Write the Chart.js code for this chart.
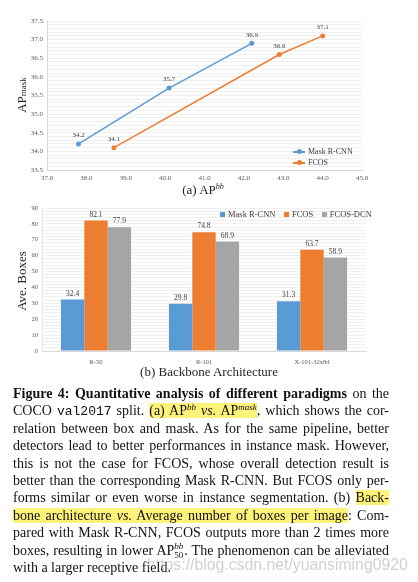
<!DOCTYPE html>
<html>
<head>
<meta charset="utf-8">
<script src="https://cdn.jsdelivr.net/npm/chart.js@4.4.0/dist/chart.umd.min.js"></script>
<style>
body { margin: 0; background: #fff; }
#page { position: relative; width: 418px; height: 582px; overflow: hidden; font-family: "Liberation Serif", "Times New Roman", serif; color: #111; }
canvas { position: absolute; left: 0; }
#chartA { top: 0; }
#chartB { top: 195px; }
.lbl { position: absolute; color: #262626; font-size: 13px; white-space: nowrap; }
.rot { transform: translate(-50%, -50%) rotate(-90deg); }
.ctr { transform: translate(-50%, -50%); }
.lbl sup { font-size: 8px; vertical-align: 0; position: relative; top: -5px; }
.leg { position: absolute; font-size: 8px; color: #404040; white-space: nowrap; line-height: 10px; }
.leg .ln { display: inline-block; width: 12px; height: 1.5px; vertical-align: middle; position: relative; margin-right: 3px; }
.leg .ln::after { content: ""; position: absolute; left: 4px; top: -2px; width: 5px; height: 5px; border-radius: 50%; background: inherit; }
.leg .sq { display: inline-block; width: 5px; height: 5px; margin-right: 3px; vertical-align: middle; position: relative; top: -1px; }
#cap { position: absolute; left: 13px; top: 385px; width: 376px; font-size: 14px; }
#cap .row { height: 17.4px; line-height: 17.4px; text-align: justify; text-align-last: justify; white-space: nowrap; }
#cap .row.end { text-align-last: left; }
#cap code { font-family: "Liberation Mono", monospace; font-size: 13px; }
#cap .hl { background: #fdf27a; }
#cap sup { font-size: 9px; vertical-align: 0; position: relative; top: -5px; line-height: 0; }
#cap .ss { position: relative; display: inline-block; width: 10px; height: 1px; }
#cap .ss span { position: absolute; left: 0; font-size: 9px; line-height: 9px; }
#cap .ss .up { top: -12px; }
#cap .ss .dn { top: -3px; }
#wm { position: absolute; left: 147px; top: 556px; font-family: "Liberation Sans", Arial, sans-serif; font-size: 15.8px; line-height: 18px; color: rgba(150, 150, 150, 0.45); white-space: nowrap; }
</style>
</head>
<body>
<div id="page">
  <canvas id="chartA" width="418" height="198"></canvas>
  <canvas id="chartB" width="418" height="185"></canvas>

  <div class="lbl rot" style="left:22px; top:95px;">AP<span style="font-size:9px;">mask</span></div>
  <div class="lbl ctr" style="left:203px; top:190px;">(a) AP<sup><i>bb</i></sup></div>
  <div class="lbl rot" style="left:22px; top:281px;">Ave. Boxes</div>
  <div class="lbl ctr" style="left:209px; top:372px;">(b) Backbone Architecture</div>

  <div class="leg" style="left:293px; top:147px;"><span class="ln" style="background:#5b9bd5"></span>Mask R-CNN</div>
  <div class="leg" style="left:293px; top:158px;"><span class="ln" style="background:#ed7d31"></span>FCOS</div>

  <div class="leg" style="left:220px; top:209px; font-size:8.5px;">
    <span class="sq" style="background:#5b9bd5"></span>Mask R-CNN&nbsp;&nbsp;&nbsp;
    <span class="sq" style="background:#ed7d31"></span>FCOS&nbsp;&nbsp;&nbsp;
    <span class="sq" style="background:#a5a5a5"></span>FCOS-DCN
  </div>

  <div id="cap">
    <div class="row"><b>Figure 4: Quantitative analysis of different paradigms</b> on the</div>
    <div class="row">COCO <code>val2017</code> split. <span class="hl">(a) AP<sup><i>bb</i></sup> <i>vs.</i> AP<sup><i>mask</i></sup></span>, which shows the cor-</div>
    <div class="row">relation between box and mask. As for the same pipeline, better</div>
    <div class="row">detectors lead to better performances in instance mask. However,</div>
    <div class="row">this is not the case for FCOS, whose overall detection result is</div>
    <div class="row">better than the corresponding Mask R-CNN. But FCOS only per-</div>
    <div class="row">forms similar or even worse in instance segmentation. (b) <span class="hl">Back-</span></div>
    <div class="row"><span class="hl">bone architecture <i>vs.</i> Average number of boxes per image</span>: Com-</div>
    <div class="row">pared with Mask R-CNN, FCOS outputs more than 2 times more</div>
    <div class="row">boxes, resulting in lower AP<span class="ss"><span class="up"><i>bb</i></span><span class="dn">50</span></span>. The phenomenon can be alleviated</div>
    <div class="row end">with a larger receptive field.</div>
  </div>
  <div id="wm">https://blog.csdn.net/yuansiming0920</div>
</div>

<script>
// (a) AP bb vs AP mask
const maskBoxAP = [37.8, 40.1, 42.2];
const maskMaskAP = [34.2, 35.7, 36.9];
const fcosBoxAP = [38.7, 42.9, 44.0];
const fcosMaskAP = [34.1, 36.6, 37.1];

// (b) nombre moyen de boîtes
const backbones = ['R-50', 'R-101', 'X-101-32x8d'];
const boxesMask = [32.4, 29.8, 31.3];
const boxesFcos = [82.1, 74.8, 63.7];
const boxesFcosDcn = [77.9, 68.9, 58.9];

const BLUE = '#5b9bd5';
const ORANGE = '#ed7d31';
const GRAY = '#a5a5a5';
const SERIF = '"Liberation Serif", "Times New Roman", serif';

// écrit la valeur au-dessus de chaque point / barre
const valueLabels = {
    id: 'valueLabels',
    afterDatasetsDraw(chart, args, opts) {
        const ctx = chart.ctx;
        ctx.save();
        ctx.font = opts.size + 'px ' + SERIF;
        ctx.fillStyle = '#404040';
        ctx.textAlign = 'center';
        ctx.textBaseline = 'bottom';
        chart.data.datasets.forEach((ds, i) => {
            chart.getDatasetMeta(i).data.forEach((el, j) => {
                const v = ds.data[j];
                const val = typeof v === 'object' ? v.y : v;
                ctx.fillText(val.toFixed(1), el.x, el.y - opts.offset);
            });
        });
        ctx.restore();
    }
};

function pairs(xs, ys) {
    return xs.map((x, i) => ({ x: x, y: ys[i] }));
}

new Chart(document.getElementById('chartA'), {
    type: 'line',
    data: {
        datasets: [{
            label: 'Mask R-CNN',
            data: pairs(maskBoxAP, maskMaskAP),
            borderColor: BLUE,
            backgroundColor: BLUE,
            borderWidth: 1.5,
            pointRadius: 2.5,
            pointBorderWidth: 0,
            tension: 0
        }, {
            label: 'FCOS',
            data: pairs(fcosBoxAP, fcosMaskAP),
            borderColor: ORANGE,
            backgroundColor: ORANGE,
            borderWidth: 1.5,
            pointRadius: 2.5,
            pointBorderWidth: 0,
            tension: 0
        }]
    },
    options: {
        responsive: false,
        animation: false,
        layout: { padding: { top: 21, right: 56, left: 0, bottom: 0 } },
        plugins: {
            legend: { display: false },
            tooltip: { enabled: false },
            valueLabels: { size: 7, offset: 5 }
        },
        scales: {
            x: {
                type: 'linear',
                min: 37, max: 45,
                afterFit: s => { s.height = 28; },
                grid: { display: false, drawTicks: false },
                border: { display: true, color: '#d9d9d9' },
                ticks: {
                    stepSize: 1, padding: 4, color: '#595959',
                    font: { family: SERIF, size: 7 },
                    callback: v => Number(v).toFixed(1)
                }
            },
            y: {
                min: 33.5, max: 37.5,
                afterFit: s => { s.width = 47; },
                grid: { color: '#f0f0f0', drawTicks: false },
                border: { display: true, color: '#d9d9d9' },
                ticks: {
                    stepSize: 0.1, maxTicksLimit: 100, autoSkip: false, padding: 4, color: '#595959',
                    font: { family: SERIF, size: 7 },
                    callback: v => Math.abs(v * 2 - Math.round(v * 2)) < 1e-6 ? Number(v).toFixed(1) : ''
                }
            }
        }
    },
    plugins: [valueLabels]
});

new Chart(document.getElementById('chartB'), {
    type: 'bar',
    data: {
        labels: backbones,
        datasets: [
            { label: 'Mask R-CNN', data: boxesMask, backgroundColor: BLUE },
            { label: 'FCOS', data: boxesFcos, backgroundColor: ORANGE },
            { label: 'FCOS-DCN', data: boxesFcosDcn, backgroundColor: GRAY }
        ]
    },
    options: {
        responsive: false,
        animation: false,
        categoryPercentage: 0.65,
        barPercentage: 1.0,
        layout: { padding: { top: 13, right: 52, left: 0, bottom: 0 } },
        plugins: {
            legend: { display: false },
            tooltip: { enabled: false },
            valueLabels: { size: 7.5, offset: 2 }
        },
        scales: {
            x: {
                afterFit: s => { s.height = 29; },
                grid: { display: false, drawTicks: false },
                border: { display: true, color: '#d9d9d9' },
                ticks: { padding: 7, color: '#595959', font: { family: SERIF, size: 6.5 } }
            },
            y: {
                min: 0, max: 90,
                afterFit: s => { s.width = 42; },
                grid: { color: '#f0f0f0', drawTicks: false },
                border: { display: true, color: '#e6e6e6' },
                ticks: {
                    stepSize: 2, maxTicksLimit: 100, autoSkip: false, padding: 4, color: '#595959',
                    font: { family: SERIF, size: 6.5 },
                    callback: v => v % 10 === 0 ? v : ''
                }
            }
        }
    },
    plugins: [valueLabels]
});
</script>
</body>
</html>
